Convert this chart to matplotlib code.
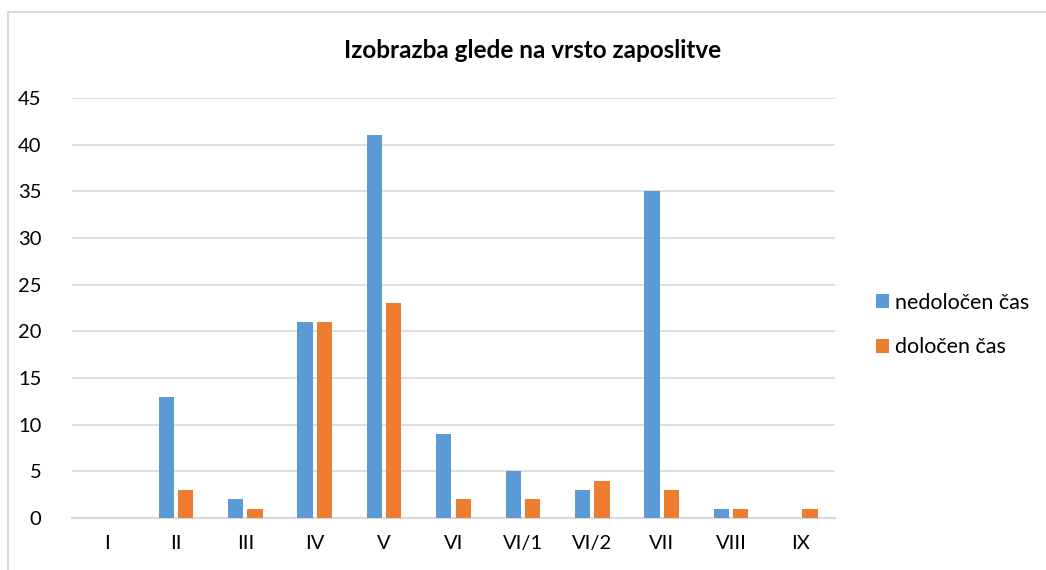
import matplotlib
matplotlib.use("Agg")
import matplotlib.pyplot as plt
import numpy as np
from matplotlib.patches import Rectangle

categories = ["I", "II", "III", "IV", "V", "VI", "VI/1", "VI/2", "VII", "VIII", "IX"]
nedolocen = [0, 13, 2, 21, 41, 9, 5, 3, 35, 1, 0]
dolocen = [0, 3, 1, 21, 23, 2, 2, 4, 3, 1, 1]
yticks = [0, 5, 10, 15, 20, 25, 30, 35, 40, 45]

plt.rcParams['font.family'] = ['Lato', 'DejaVu Sans']

fig = plt.figure(figsize=(10.46, 5.70), dpi=100)
W, H = 1046, 570
ax = fig.add_axes([72 / W, 1 - 518 / H, (835 - 72) / W, (518 - 98) / H])

x = np.arange(len(categories))
bw = 0.22
ax.bar(x - 0.14, nedolocen, bw, color="#5B9BD5", label="nedoločen čas", zorder=3)
ax.bar(x + 0.14, dolocen, bw, color="#ED7D31", label="določen čas", zorder=3)

ax.set_xlim(-0.5, len(categories) - 0.5)
ax.set_ylim(0, 45)
ax.set_yticks(yticks)
ax.set_xticks(x)
ax.set_xticklabels(categories)
ax.yaxis.grid(True, color="#D9D9D9", linewidth=1.2, zorder=0)
for s in ["top", "right", "left"]:
    ax.spines[s].set_visible(False)
ax.spines["bottom"].set_color("#D9D9D9")
ax.spines["bottom"].set_linewidth(1.5)
ax.tick_params(axis="both", length=0, labelsize=14.5, colors="#000000")
ax.tick_params(axis="x", pad=12)
ax.tick_params(axis="y", pad=22)

fig.text(533 / W, 1 - 50 / H, "Izobrazba glede na vrsto zaposlitve",
         ha="center", va="center", fontsize=17.5, fontweight="bold")

leg = fig.legend(loc="center left", bbox_to_anchor=(857 / W, 1 - 325 / H),
                 frameon=False, fontsize=15.5, handlelength=0.6, handleheight=0.6,
                 handletextpad=0.25, labelspacing=1.15)

fig.patches.append(Rectangle((8 / W, -0.1), 1.2, 1 - 12 / H + 0.1,
                             transform=fig.transFigure, fill=False,
                             edgecolor="#D9D9D9", linewidth=1.5))

fig.savefig("out.png", dpi=100)
